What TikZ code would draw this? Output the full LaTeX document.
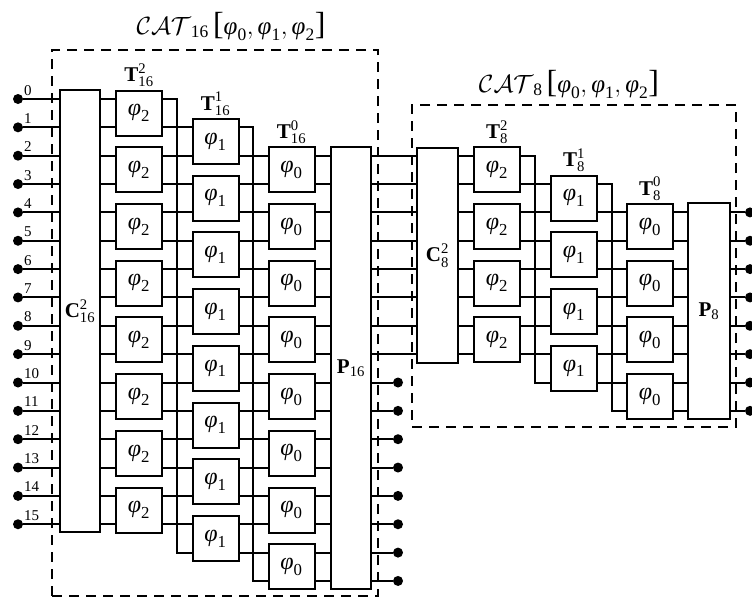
\documentclass[tikz,border=0pt]{standalone}
\usepackage{amsmath}
\usepackage{fontspec}
\setmainfont{Liberation Serif}
\newcommand{\ph}[1]{\text{\itshape φ}_{\text{#1}}}
\newcommand{\lbk}{\text{\fontsize{32}{32}\selectfont[}}
\newcommand{\rbk}{\text{\fontsize{32}{32}\selectfont]}}
\begin{document}
\begin{tikzpicture}[x=1pt,y=-1pt,
  wire/.style={line width=2pt},
  blk/.style={draw,line width=2pt,fill=white,inner sep=0pt,font=\fontsize{21}{25}\selectfont},
  pbox/.style={blk,minimum width=46pt,minimum height=45pt,font=\fontsize{24}{28}\selectfont},
  tlab/.style={anchor=south,inner sep=0.5pt,yshift=2pt,font=\fontsize{21}{25}\selectfont},
  dotn/.style={circle,fill=black,inner sep=0pt,minimum size=10pt},
  num/.style={anchor=base west,inner sep=0pt,font=\fontsize{15}{17}\selectfont},
  catbox/.style={draw,line width=2pt,dash pattern=on 10pt off 7pt,inner sep=0pt},
  cattitle/.style={inner sep=0pt,anchor=base,font=\fontsize{25}{27}\selectfont}
]
\useasboundingbox (0,0) rectangle (752,597);

% line positions
\foreach \i in {0,...,17}{
  \coordinate (y\i) at (0,{99+\i*28.35});
}

% ---------- CAT16 block ----------
\node[blk,minimum width=40pt,minimum height=442pt] (C16) at (80,311) {$\textbf{C}_{\text{16}}^{\text{2}}$};
\node[blk,minimum width=40pt,minimum height=442pt] (P16) at (351,368) {$\textbf{P}_{\text{16}}$};
\foreach \k in {0,...,7}{
  \node[pbox] (A\k) at (139,{99+(2*\k+0.5)*28.35}) {$\ph{2}$};
  \node[pbox] (B\k) at (215.5,{99+(2*\k+1.5)*28.35}) {$\ph{1}$};
  \node[pbox] (G\k) at (291.5,{99+(2*\k+2.5)*28.35}) {$\ph{0}$};
}
\node[tlab] (TA) at (A0.north) {$\textbf{T}_{\text{16}}^{\text{2}}$};
\node[tlab] (TB) at (B0.north) {$\textbf{T}_{\text{16}}^{\text{1}}$};
\node[tlab] (TG) at (G0.north) {$\textbf{T}_{\text{16}}^{\text{0}}$};

% inputs
\foreach \i in {0,...,15}{
  \node[dotn] (in\i) at (18,{99+\i*28.35}) {};
  \node[num] (n\i) at (24,{99+\i*28.35-4}) {\i};
  \draw[wire] (in\i) -- (C16.west |- in\i);
}
% C16 -> phi2
\foreach \i in {0,...,15}{
  \pgfmathtruncatemacro\k{floor(\i/2)}
  \draw[wire] (C16.east |- y\i) -- (A\k.west |- y\i);
}
% phi2 -> phi1
\foreach \i in {1,...,15}{
  \pgfmathtruncatemacro\ka{floor(\i/2)}
  \pgfmathtruncatemacro\kb{floor((\i-1)/2)}
  \draw[wire] (A\ka.east |- y\i) -- (B\kb.west |- y\i);
}
\coordinate (w1) at (177,0);
\draw[wire] (A0.east |- y0) -| (w1 |- y16) -- (B7.west |- y16);
% phi1 -> phi0
\foreach \i in {2,...,16}{
  \pgfmathtruncatemacro\kb{floor((\i-1)/2)}
  \pgfmathtruncatemacro\kc{floor((\i-2)/2)}
  \draw[wire] (B\kb.east |- y\i) -- (G\kc.west |- y\i);
}
\coordinate (w2) at (253,0);
\draw[wire] (B0.east |- y1) -| (w2 |- y17) -- (G7.west |- y17);
% phi0 -> P16
\foreach \i in {2,...,17}{
  \pgfmathtruncatemacro\kc{floor((\i-2)/2)}
  \draw[wire] (G\kc.east |- y\i) -- (P16.west |- y\i);
}

% ---------- CAT8 block ----------
\node[blk,minimum width=41pt,minimum height=215pt] (C8) at (437.5,255.5) {$\textbf{C}_{\text{8}}^{\text{2}}$};
\node[blk,minimum width=42pt,minimum height=216pt] (P8) at (709,311) {$\textbf{P}_{\text{8}}$};
\foreach \k in {0,...,3}{
  \node[pbox] (RA\k) at (497,{99+(2*\k+2.5)*28.35}) {$\ph{2}$};
  \node[pbox] (RB\k) at (574,{99+(2*\k+3.5)*28.35}) {$\ph{1}$};
  \node[pbox] (RG\k) at (650,{99+(2*\k+4.5)*28.35}) {$\ph{0}$};
}
\node[tlab] (TRA) at (RA0.north) {$\textbf{T}_{\text{8}}^{\text{2}}$};
\node[tlab] (TRB) at (RB0.north) {$\textbf{T}_{\text{8}}^{\text{1}}$};
\node[tlab] (TRG) at (RG0.north) {$\textbf{T}_{\text{8}}^{\text{0}}$};

% P16 outputs
\foreach \i in {2,...,9}{
  \draw[wire] (P16.east |- y\i) -- (C8.west |- y\i);
}
\foreach \i in {10,...,17}{
  \node[dotn] (o\i) at (398,{99+\i*28.35}) {};
  \draw[wire] (P16.east |- y\i) -- (o\i);
}
% C8 -> phi2
\foreach \i in {2,...,9}{
  \pgfmathtruncatemacro\k{floor((\i-2)/2)}
  \draw[wire] (C8.east |- y\i) -- (RA\k.west |- y\i);
}
% phi2 -> phi1
\foreach \i in {3,...,9}{
  \pgfmathtruncatemacro\ka{floor((\i-2)/2)}
  \pgfmathtruncatemacro\kb{floor((\i-3)/2)}
  \draw[wire] (RA\ka.east |- y\i) -- (RB\kb.west |- y\i);
}
\coordinate (w3) at (535,0);
\draw[wire] (RA0.east |- y2) -| (w3 |- y10) -- (RB3.west |- y10);
% phi1 -> phi0
\foreach \i in {4,...,10}{
  \pgfmathtruncatemacro\kb{floor((\i-3)/2)}
  \pgfmathtruncatemacro\kc{floor((\i-4)/2)}
  \draw[wire] (RB\kb.east |- y\i) -- (RG\kc.west |- y\i);
}
\coordinate (w4) at (612,0);
\draw[wire] (RB0.east |- y3) -| (w4 |- y11) -- (RG3.west |- y11);
% phi0 -> P8
\foreach \i in {4,...,11}{
  \pgfmathtruncatemacro\kc{floor((\i-4)/2)}
  \draw[wire] (RG\kc.east |- y\i) -- (P8.west |- y\i);
}
% P8 outputs
\foreach \i in {4,...,11}{
  \node[dotn] (r\i) at (750,{99+\i*28.35}) {};
  \draw[wire] (P8.east |- y\i) -- (r\i);
}

% dashed groups and titles
\node[catbox,minimum width=326pt,minimum height=546pt] (cat16) at (215,323) {};
\node[catbox,minimum width=324pt,minimum height=322pt] (cat8) at (574,266) {};
\node[cattitle] (t16) at (231,34) {$\mathcal{CAT}_{\text{16}}\,\lbk\ph{0},\ph{1},\ph{2}\rbk$};
\node[cattitle] (t8) at (569,92) {$\mathcal{CAT}_{\text{8}}\,\lbk\ph{0},\ph{1},\ph{2}\rbk$};
\end{tikzpicture}
\end{document}
